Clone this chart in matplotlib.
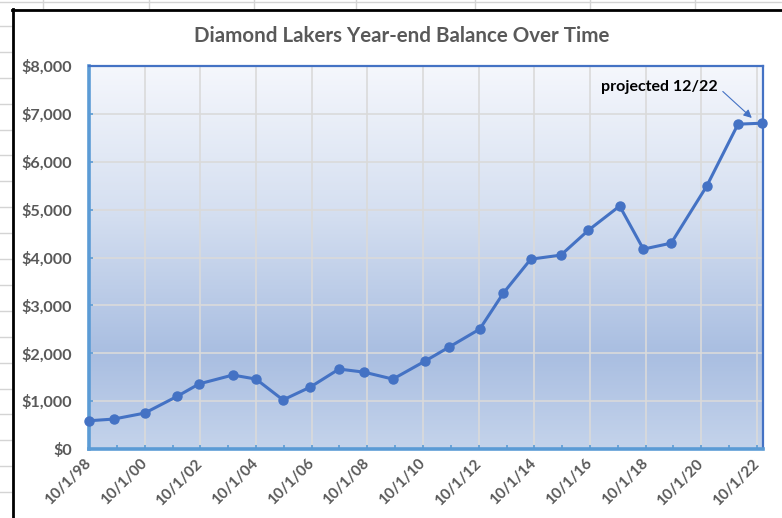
import numpy as np
import pandas as pd
import matplotlib
matplotlib.use("Agg")
import matplotlib.pyplot as plt
from matplotlib.colors import LinearSegmentedColormap
from matplotlib.lines import Line2D
from matplotlib.ticker import FuncFormatter, MultipleLocator

plt.rcParams['font.family'] = ['Lato', 'DejaVu Sans']

# year-end balances
dates = ['1998-10-01', '1999-08-20', '2000-10-01', '2001-12-01', '2002-09-15',
         '2003-12-01', '2004-10-01', '2005-09-20', '2006-09-15', '2007-09-25',
         '2008-08-20', '2009-09-01', '2010-11-01', '2011-09-10', '2012-10-15',
         '2013-08-20', '2014-08-15', '2015-09-15', '2016-09-10', '2017-10-25',
         '2018-09-01', '2019-09-01', '2020-12-10', '2022-01-25', '2022-12-01']
balance = [590, 625, 750, 1100, 1360, 1545, 1460, 1025, 1295, 1670,
           1605, 1460, 1840, 2130, 2505, 3255, 3965, 4050, 4570, 5075,
           4175, 4300, 5490, 6785, 6805]
tick_dates = ['%d-10-01' % y for y in range(1998, 2023, 2)]
minor_dates = ['%d-10-01' % y for y in range(1999, 2023, 2)]
tick_labels = ['10/1/%02d' % (y % 100) for y in range(1998, 2023, 2)]

x = pd.to_datetime(dates)
W, H = 782, 518
fig = plt.figure(figsize=(W / 100, H / 100), dpi=100)

# spreadsheet cells behind the chart
grid_c = '#d4d4d4'
for k in range(1, 20):
    y = 1 - 25.9 * k / H
    fig.add_artist(Line2D([0, 11 / W], [y, y], color=grid_c, lw=1))
for xc in [43, 149, 254, 356, 475, 590, 695]:
    fig.add_artist(Line2D([xc / W, xc / W], [1, 1 - 8 / H], color=grid_c, lw=1))
fig.add_artist(Line2D([0, 1], [1 - 2 / H, 1 - 2 / H], color=grid_c, lw=1))
fig.add_artist(Line2D([12.5 / W, 12.5 / W], [0, 1 - 9 / H], color='black', lw=2))
fig.add_artist(Line2D([12 / W, 1], [1 - 9.5 / H, 1 - 9.5 / H], color='black', lw=2))

ax = fig.add_axes([89 / W, (H - 449) / H, (763 - 89) / W, (449 - 66) / H])

# gradient fill of the plot area
cmap = LinearSegmentedColormap.from_list('bg', [(0, '#f5f7fc'), (0.37, '#d6e0f1'),
                                                (0.75, '#a9bee1'), (1, '#c4d3eb')])
ax.imshow(np.linspace(0, 1, 256).reshape(-1, 1), cmap=cmap, aspect='auto',
          extent=[0, 1, 0, 1], transform=ax.transAxes, zorder=0)

ax.plot(x, balance, color='#4472c4', lw=2.2, marker='o', ms=6.5, zorder=3, clip_on=False)

ax.set_xlim(pd.Timestamp('1998-10-01'), pd.Timestamp('2022-12-19'))
ax.set_ylim(0, 8000)
ax.set_xticks(pd.to_datetime(tick_dates))
ax.set_xticks(pd.to_datetime(minor_dates), minor=True)
ax.set_xticklabels(tick_labels)
ax.yaxis.set_major_locator(MultipleLocator(1000))
ax.yaxis.set_major_formatter(FuncFormatter(lambda v, p: '${:,.0f}'.format(v)))

ax.grid(True, which='major', color='#dadada', lw=1.2, zorder=1)
ax.set_axisbelow(True)

txt_c = '#595959'
ax.tick_params(axis='y', direction='in', length=3, width=1.2, color='#5b9bd5',
               pad=12, labelsize=11.6, labelcolor=txt_c)
ax.tick_params(axis='x', which='both', direction='in', length=3, width=1.2,
               color='#5b9bd5', pad=9, labelsize=11, labelcolor=txt_c)
for lab in ax.get_yticklabels():
    lab.set_fontweight('bold')
for lab in ax.get_xticklabels():
    lab.set_fontweight('bold')
    lab.set_rotation(45)
    lab.set_ha('right')
    lab.set_va('center')
    lab.set_rotation_mode('anchor')

for s in ['top', 'right']:
    ax.spines[s].set_color('#4472c4')
    ax.spines[s].set_linewidth(1.6)
for s in ['left', 'bottom']:
    ax.spines[s].set_color('#5b9bd5')
    ax.spines[s].set_linewidth(2.6)

ax.annotate('projected 12/22', xy=(pd.Timestamp('2022-07-25'), 6915),
            xytext=(pd.Timestamp('2017-02-25'), 7560), fontsize=11.5,
            fontweight='bold', color='black', ha='left', va='center',
            arrowprops=dict(arrowstyle='-|>', color='#4472c4', lw=0.8,
                            mutation_scale=12, relpos=(1, 0.5), shrinkA=2, shrinkB=0))

fig.text(402 / W, 1 - 35.5 / H, 'Diamond Lakers Year-end Balance Over Time',
         ha='center', va='center', fontsize=14.8, fontweight='bold', color=txt_c)

fig.savefig('out.png', dpi=100)
